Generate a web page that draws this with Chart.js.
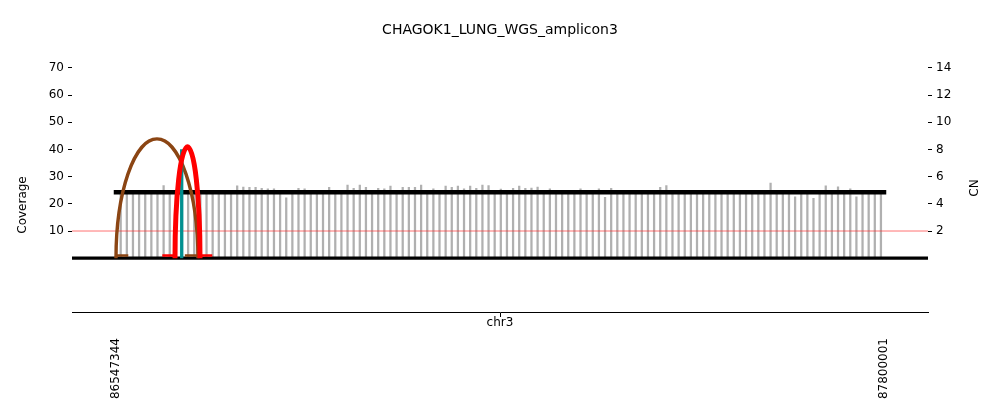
<!DOCTYPE html>
<html>
<head>
<meta charset="utf-8">
<title>CHAGOK1_LUNG_WGS_amplicon3</title>
<script src="https://cdn.jsdelivr.net/npm/chart.js@4.4.1/dist/chart.umd.min.js"></script>
<style>
  html, body { margin: 0; padding: 0; background: #fff; }
  #wrap { width: 1000px; height: 416px; }
</style>
</head>
<body>
<div id="wrap"><canvas id="ampliconChart" width="1000" height="416"></canvas></div>
<script>
// --- data ---
const sampleTitle = 'CHAGOK1_LUNG_WGS_amplicon3';
const chrName = 'chr3';
const xTicks = [86547344, 87800001];
const xMin = 86475576;
const xMax = 87871769;
const covTicks = [10, 20, 30, 40, 50, 60, 70];
const cnTicks = [2, 4, 6, 8, 10, 12, 14];

// coverage bins, 10 kb each, first bin centre
const firstBin = 86555000;
const binSize = 10000;
const coverage = [
  24.5, 24.5, 24.5, 24.5, 24.5, 24.5, 24.5, 26.7, 24.5, 24.5,
  24.5, 24.5, 24.5, 24.5, 24.5, 24.5, 24.5, 24.5, 24.5, 26.6,
  26.2, 26.1, 26.1, 25.7, 25.5, 25.5, 24.5, 22.2, 24.5, 25.7,
  25.5, 24.5, 24.5, 24.5, 26.1, 24.5, 24.5, 26.9, 25.7, 26.9,
  26.1, 24.5, 25.7, 25.5, 26.5, 24.5, 26.1, 26.1, 26.1, 26.9,
  24.5, 25.5, 24.5, 26.5, 26.1, 26.5, 25.5, 26.5, 25.7, 26.9,
  26.7, 24.5, 25.4, 24.5, 25.7, 26.5, 25.7, 25.8, 26.2, 24.5,
  25.5, 24.5, 24.5, 24.5, 24.5, 25.5, 24.5, 24.5, 25.5, 22.4,
  25.7, 24.5, 24.5, 24.5, 24.5, 24.5, 24.5, 24.5, 26.1, 26.7,
  24.5, 24.5, 24.5, 24.5, 24.5, 24.5, 24.5, 24.5, 24.5, 24.5,
  24.5, 24.5, 24.5, 24.5, 24.5, 24.5, 27.6, 24.5, 24.5, 24.5,
  22.6, 24.5, 24.5, 22.0, 24.5, 26.6, 24.5, 26.3, 24.5, 25.5,
  22.6, 24.5, 24.5, 24.5, 24.5
];

// copy number segments
const cnSegStart = [86547344];
const cnSegEnd = [87800001];
const cnSegValue = [4.86];
const refCN = 2;

// breakpoint arcs (brown, teal, red)
const arcStart = [86547344, 86654507, 86643578];
const arcEnd = [86681000, 86654507, 86684355];
const arcTop = [43.9, 40.1, 41.0];

// breakpoint direction marks at the baseline
const markStart = [86547344, 86659644, 86622863, 86684355];
const markEnd = [86567406, 86681000, 86643578, 86704404];
const markLevel = 1.0;

// --- styles ---
const arcStyle = [
  { color: '#8b4513', width: 3.4 },
  { color: '#009090', width: 3.3 },
  { color: '#ff0000', width: 5 }
];
const markColor = ['#8b4513', '#8b4513', '#ff0000', '#ff0000'];

Chart.defaults.font.family = "'DejaVu Sans', sans-serif";
Chart.defaults.font.size = 12;
Chart.defaults.color = '#000';

const arcPlugin = {
  id: 'arcs',
  afterDatasetsDraw(chart) {
    const { ctx, chartArea, scales } = chart;
    const x = scales.x, cov = scales.cov;
    ctx.save();
    ctx.beginPath();
    ctx.rect(chartArea.left, chartArea.top, chartArea.width, chartArea.height);
    ctx.clip();
    arcStart.forEach((s, i) => {
      const x1 = x.getPixelForValue(s);
      const x2 = x.getPixelForValue(arcEnd[i]);
      const y0 = cov.getPixelForValue(0);
      const yTop = cov.getPixelForValue(arcTop[i]);
      ctx.beginPath();
      ctx.ellipse((x1 + x2) / 2, y0, Math.abs(x2 - x1) / 2, y0 - yTop, 0, Math.PI, 2 * Math.PI);
      ctx.strokeStyle = arcStyle[i].color;
      ctx.lineWidth = arcStyle[i].width;
      ctx.stroke();
    });
    ctx.restore();
  }
};

// axis labels placed like the original figure
const labelPlugin = {
  id: 'labels',
  afterDraw(chart) {
    const { ctx, chartArea } = chart;
    ctx.save();
    ctx.fillStyle = '#000';
    ctx.font = "12px 'DejaVu Sans', sans-serif";
    ctx.textAlign = 'center';
    ctx.textBaseline = 'middle';
    ctx.fillText(chrName, (chartArea.left + chartArea.right) / 2, 323);

    ctx.translate(23, 205);
    ctx.rotate(-Math.PI / 2);
    ctx.fillText('Coverage', 0, 0);
    ctx.restore();

    ctx.save();
    ctx.fillStyle = '#000';
    ctx.font = "12px 'DejaVu Sans', sans-serif";
    ctx.textAlign = 'center';
    ctx.textBaseline = 'middle';
    ctx.translate(975, 188);
    ctx.rotate(-Math.PI / 2);
    ctx.fillText('CN', 0, 0);
    ctx.restore();
  }
};

const flat = (y, a, b) => [{ x: a, y: y }, { x: b, y: y }];

const datasets = [
  {
    type: 'bar',
    label: 'coverage',
    data: coverage.map((v, i) => ({ x: firstBin + binSize * i, y: v })),
    yAxisID: 'cov',
    backgroundColor: '#b0b0b0',
    barThickness: 1.6,
    order: 6
  },
  {
    type: 'line',
    label: 'reference CN',
    data: flat(refCN, xMin, xMax),
    yAxisID: 'cn',
    borderColor: 'rgba(255, 40, 40, 0.65)',
    borderWidth: 1,
    pointRadius: 0,
    order: 5
  },
  ...cnSegStart.map((s, i) => ({
    type: 'line',
    label: 'CN segment',
    data: flat(cnSegValue[i], s, cnSegEnd[i]),
    yAxisID: 'cn',
    borderColor: '#000',
    borderWidth: 4.5,
    borderCapStyle: 'square',
    pointRadius: 0,
    order: 4
  })),
  {
    type: 'line',
    label: 'baseline',
    data: flat(0, xMin, xMax),
    yAxisID: 'cov',
    borderColor: '#000',
    borderWidth: 3.3,
    pointRadius: 0,
    order: 3
  },
  ...markStart.map((s, i) => ({
    type: 'line',
    label: 'breakpoint mark',
    data: flat(markLevel, s, markEnd[i]),
    yAxisID: 'cov',
    borderColor: markColor[i],
    borderWidth: 2.6,
    pointRadius: 0,
    order: 2
  }))
];

const config = {
  type: 'line',
  data: { datasets: datasets },
  options: {
    responsive: false,
    animation: false,
    devicePixelRatio: 1,
    layout: { padding: 0 },
    plugins: {
      legend: { display: false },
      tooltip: { enabled: false },
      title: {
        display: true,
        text: sampleTitle,
        font: { size: 14, weight: 'normal' },
        color: '#000',
        padding: { top: 21.6, bottom: 16 }
      }
    },
    scales: {
      x: {
        type: 'linear',
        min: xMin,
        max: xMax,
        offset: false,
        afterBuildTicks: axis => { axis.ticks = xTicks.map(v => ({ value: v })); },
        afterFit: scale => { scale.height = 104; },
        grid: { drawOnChartArea: false, drawTicks: true, tickLength: 5, color: '#000' },
        border: { display: true, color: '#000', width: 1 },
        ticks: {
          autoSkip: false,
          minRotation: 90,
          maxRotation: 90,
          padding: 21,
          callback: v => String(v)
        }
      },
      cov: {
        type: 'linear',
        position: 'left',
        min: -19.8,
        max: 75,
        afterBuildTicks: axis => { axis.ticks = covTicks.map(v => ({ value: v })); },
        afterFit: scale => { scale.width = 72; },
        grid: { drawOnChartArea: false, drawTicks: true, tickLength: 4, color: '#000' },
        border: { display: false },
        ticks: { padding: 4 }
      },
      cn: {
        type: 'linear',
        position: 'right',
        min: -3.96,
        max: 15,
        afterBuildTicks: axis => { axis.ticks = cnTicks.map(v => ({ value: v })); },
        afterFit: scale => { scale.width = 72; },
        grid: { drawOnChartArea: false, drawTicks: true, tickLength: 4, color: '#000' },
        border: { display: false },
        ticks: { padding: 4 }
      }
    }
  },
  plugins: [arcPlugin, labelPlugin]
};

new Chart(document.getElementById('ampliconChart').getContext('2d'), config);
</script>
</body>
</html>
